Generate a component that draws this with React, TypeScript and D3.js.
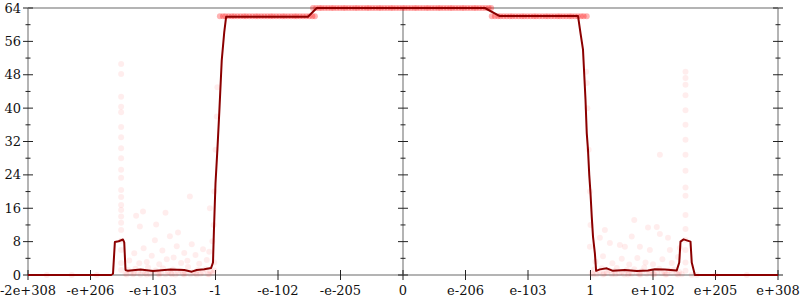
import React from "react";
import * as d3 from "d3";

// x positions are in "tick index" units of the float-ordering axis (tick i sits at i)
const xTickLabels = ["-2e+308", "-e+206", "-e+103", "-1", "-e-102", "-e-205", "0", "e-206", "e-103", "1", "e+102", "e+205", "e+308"];
const yTicks = [0, 8, 16, 24, 32, 40, 48, 56, 64];
const yMinorTicks = [4, 12, 20, 28, 36, 44, 52, 60];

// average-error line
const avgLine: [number, number][] = [
  [0, 0], [1.33, 0], [1.36, 0.3], [1.39, 7.9], [1.45, 8.1], [1.52, 8.5], [1.54, 7.8], [1.56, 1.2],
  [1.6, 1.0], [1.8, 1.3], [2.0, 0.95], [2.28, 1.3], [2.5, 1.2], [2.62, 0.8], [2.7, 1.2], [2.82, 1.4],
  [2.93, 1.7], [2.96, 3], [2.975, 10.8], [3.0, 22], [3.03, 30], [3.06, 38.8], [3.1, 51.5], [3.14, 58.2],
  [3.17, 61.9], [3.3, 61.9], [4.48, 61.9], [4.62, 64], [7.31, 64], [7.54, 62.1], [8.8, 62.1],
  [8.84, 58], [8.88, 54], [8.9, 48], [8.92, 42], [8.94, 34], [8.96, 30], [8.98, 24], [9.0, 19.6],
  [9.02, 14], [9.04, 9.2], [9.07, 5.2], [9.09, 1.0], [9.15, 1.35], [9.26, 1.6], [9.36, 1.0],
  [9.55, 1.2], [9.74, 0.95], [9.92, 1.1], [10.03, 1.4], [10.19, 1.3], [10.38, 1.1], [10.42, 3],
  [10.44, 8.0], [10.49, 8.55], [10.6, 8.0], [10.62, 3], [10.67, 0], [12, 0],
];

// dense sample bands
const band62LeftX = [3.07, 3.12, 3.16, 3.21, 3.26, 3.3, 3.35, 3.4, 3.45, 3.49, 3.54, 3.59, 3.64, 3.68, 3.73, 3.78, 3.83, 3.88, 3.92, 3.97, 4.02, 4.07, 4.11, 4.16, 4.21, 4.26, 4.3, 4.35, 4.4, 4.45, 4.5, 4.55, 4.59];
const band64X = [4.56, 4.61, 4.66, 4.7, 4.75, 4.8, 4.85, 4.89, 4.94, 4.99, 5.04, 5.08, 5.13, 5.18, 5.23, 5.27, 5.32, 5.37, 5.42, 5.46, 5.51, 5.56, 5.61, 5.65, 5.7, 5.75, 5.8, 5.84, 5.89, 5.94, 5.99, 6.03, 6.08, 6.13, 6.18, 6.22, 6.27, 6.32, 6.37, 6.41, 6.46, 6.51, 6.56, 6.6, 6.65, 6.7, 6.75, 6.79, 6.84, 6.89, 6.94, 6.98, 7.03, 7.08, 7.13, 7.17, 7.22, 7.27, 7.32, 7.37, 7.41];
const band62RightX = [7.42, 7.47, 7.52, 7.56, 7.61, 7.66, 7.71, 7.75, 7.8, 7.85, 7.9, 7.94, 7.99, 8.04, 8.09, 8.13, 8.18, 8.23, 8.28, 8.32, 8.37, 8.42, 8.47, 8.51, 8.56, 8.61, 8.66, 8.7, 8.75, 8.8, 8.85, 8.89, 8.94];
const band62Value = 62;
const band64Value = 64;

// sparse samples, negative side
const samplesLeft: [number, number][] = [
  [1.49, 50.6], [1.49, 48.2], [1.49, 42.7], [1.49, 40.3], [1.49, 39], [1.49, 35.5], [1.49, 33], [1.49, 30.4],
  [1.49, 28], [1.49, 25.2], [1.49, 23.3], [1.49, 20.4], [1.49, 18.7], [1.49, 16.8], [1.49, 15.6], [1.49, 14],
  [1.49, 12.5], [1.49, 10.8], [1.49, 8.2], [1.49, 6], [1.49, 2.9], [1.49, 1.2],
  [1.73, 14.2], [1.79, 11.6], [1.84, 15.2], [2.2, 14.9], [2.59, 18.8], [2.91, 16], [2.4, 10.2], [2.05, 12.1],
  [1.56, 0.3], [1.6, 1.2], [1.64, 0.5], [1.68, 0.2], [1.72, 1.5], [1.76, 0.6], [1.8, 0.1], [1.84, 0.9],
  [1.88, 0.4], [1.92, 1.8], [1.96, 0.2], [2.0, 0.7], [2.04, 1.1], [2.08, 0.3], [2.12, 0.5], [2.16, 1.6],
  [2.2, 0.2], [2.24, 0.8], [2.28, 0.4], [2.32, 1.3], [2.36, 0.1], [2.4, 0.6], [2.44, 1.0], [2.48, 0.3],
  [2.52, 0.5], [2.56, 1.9], [2.6, 0.2], [2.64, 0.7], [2.68, 0.4], [2.72, 1.2], [2.76, 0.3], [2.8, 0.6],
  [2.84, 1.4], [2.88, 0.2], [2.92, 0.9], [2.96, 0.5], [1.58, 0.1], [1.7, 0.4], [1.9, 0.1], [2.1, 0.1],
  [2.3, 0.2], [2.5, 0.1], [2.7, 0.1], [2.9, 0.2], [2.98, 1.1],
  [1.62, 3.5], [1.7, 5.2], [1.78, 2.8], [1.85, 6.4], [1.9, 3.1], [1.98, 4.6], [2.03, 8.3], [2.1, 2.6],
  [2.15, 5.9], [2.22, 3.8], [2.27, 9.3], [2.33, 4.2], [2.38, 6.9], [2.45, 2.9], [2.5, 5.3], [2.55, 3.4],
  [2.62, 7.4], [2.68, 4.8], [2.74, 2.7], [2.8, 6.2], [2.86, 3.6], [2.9, 5.6], [2.95, 8.1], [2.98, 3.0],
  [2.97, 12], [2.98, 20], [3.0, 30], [3.02, 38], [3.03, 45],
  [0.3, 0], [0.7, 0], [1.1, 0],
];

// sparse samples, positive side
const samplesRight: [number, number][] = [
  [10.52, 48.7], [10.52, 47.2], [10.52, 45.6], [10.52, 43.1], [10.52, 39.5], [10.52, 36], [10.52, 32.4],
  [10.52, 28.8], [10.52, 25], [10.52, 21], [10.52, 19], [10.52, 14.4], [10.52, 11], [10.52, 8.4],
  [10.52, 6], [10.52, 3], [10.52, 1],
  [10.11, 28.8], [9.92, 11.4], [10.06, 11.5], [9.23, 10.8], [9.7, 13.2],
  [8.99, 6.8], [9.15, 8.9], [9.31, 7.7], [9.47, 7.2], [9.55, 6.8], [9.66, 9.2], [9.79, 6.8], [9.95, 6],
  [10.11, 9.8], [10.24, 8.9], [10.27, 6], [10.43, 6.5],
  [9.08, 3.2], [9.2, 4.5], [9.35, 2.8], [9.5, 3.9], [9.62, 2.5], [9.75, 4.1], [9.88, 3.0], [10.0, 2.6],
  [10.15, 3.8], [10.3, 2.9], [10.4, 4.3],
  [9.02, 0.4], [9.06, 1.3], [9.1, 0.2], [9.14, 0.8], [9.18, 1.6], [9.22, 0.3], [9.26, 0.6], [9.3, 1.1],
  [9.34, 0.2], [9.38, 0.9], [9.42, 1.7], [9.46, 0.4], [9.5, 0.7], [9.54, 0.1], [9.58, 1.2], [9.62, 0.5],
  [9.66, 0.3], [9.7, 1.4], [9.74, 0.6], [9.78, 0.2], [9.82, 0.9], [9.86, 1.8], [9.9, 0.3], [9.94, 0.7],
  [9.98, 1.0], [10.02, 0.2], [10.06, 0.6], [10.1, 1.5], [10.14, 0.4], [10.18, 0.8], [10.22, 0.2],
  [10.26, 1.1], [10.3, 0.5], [10.34, 1.3], [10.38, 0.3], [10.42, 0.7], [10.46, 0.2],
  [9.04, 0.1], [9.2, 0.1], [9.4, 0.2], [9.6, 0.1], [9.8, 0.1], [10.0, 0.2], [10.2, 0.1], [10.4, 0.1],
  [8.93, 48.7], [8.94, 46], [8.95, 40], [8.97, 30], [8.99, 20], [9.0, 12],
  [10.62, 0], [10.7, 0], [11.0, 0], [11.5, 0],
];

const W = 800;
const H = 300;
const LEFT = 28;
const RIGHT = 778;
const TOP = 8;
const BOTTOM = 275;

export default function App() {
  const x = d3.scaleLinear().domain([0, xTickLabels.length - 1]).range([LEFT, RIGHT]);
  const y = d3.scaleLinear().domain([0, 64]).range([BOTTOM, TOP]);
  const line = d3.line<[number, number]>().x((d) => x(d[0])).y((d) => y(d[1]));
  const xTickValues = xTickLabels.map((_, i) => i);
  const midX = x(xTickLabels.indexOf("0"));

  const axisGray = "#b4b4b4";
  const tickColor = "#222";
  const font = "'DejaVu Serif', serif";

  const vAxisTicks = (ax: number, labels: boolean) => (
    <g>
      {yTicks.map((t) => (
        <line key={"M" + t} x1={ax - 5} x2={ax + 5} y1={y(t)} y2={y(t)} stroke={tickColor} strokeWidth={1} />
      ))}
      {yMinorTicks.map((t) => (
        <line key={"m" + t} x1={ax - 2.5} x2={ax + 2.5} y1={y(t)} y2={y(t)} stroke={tickColor} strokeWidth={1} />
      ))}
      {labels &&
        yTicks.map((t) => (
          <text key={"l" + t} x={ax - 7} y={y(t)} dy="0.35em" textAnchor="end" fontSize={13} fontFamily={font} fill="#111">
            {t}
          </text>
        ))}
    </g>
  );

  return (
    <svg width={W} height={H} style={{ position: "absolute", left: 0, top: 0, background: "#fff" }}>
      {/* axis frame lines */}
      <line x1={LEFT} x2={RIGHT} y1={TOP} y2={TOP} stroke={axisGray} strokeWidth={2} />
      <line x1={LEFT} x2={RIGHT} y1={BOTTOM} y2={BOTTOM} stroke={axisGray} strokeWidth={2} />
      <line x1={LEFT} x2={LEFT} y1={TOP} y2={BOTTOM} stroke={axisGray} strokeWidth={2} />
      <line x1={RIGHT} x2={RIGHT} y1={TOP} y2={BOTTOM} stroke={axisGray} strokeWidth={2} />
      <line x1={midX} x2={midX} y1={TOP} y2={BOTTOM} stroke={axisGray} strokeWidth={2} />

      {vAxisTicks(LEFT, true)}
      {vAxisTicks(midX, false)}
      {vAxisTicks(RIGHT, false)}

      {xTickValues.map((v) => (
        <g key={v}>
          <line x1={x(v)} x2={x(v)} y1={BOTTOM - 5} y2={BOTTOM + 5} stroke={tickColor} strokeWidth={1} />
          <text x={x(v)} y={BOTTOM + 20} textAnchor="middle" fontSize={13} fontFamily={font} fill="#111">
            {xTickLabels[v]}
          </text>
        </g>
      ))}

      {/* sample points */}
      <g fill="#ff0000">
        {[...samplesLeft, ...samplesRight].map((d, i) => (
          <circle key={"s" + i} cx={x(d[0])} cy={y(d[1])} r={3} fillOpacity={0.07} />
        ))}
        {band62LeftX.map((v, i) => (
          <circle key={"a" + i} cx={x(v)} cy={y(band62Value)} r={3} fillOpacity={0.3} />
        ))}
        {band64X.map((v, i) => (
          <circle key={"b" + i} cx={x(v)} cy={y(band64Value)} r={3} fillOpacity={0.3} />
        ))}
        {band62RightX.map((v, i) => (
          <circle key={"c" + i} cx={x(v)} cy={y(band62Value)} r={3} fillOpacity={0.3} />
        ))}
      </g>

      <path d={line(avgLine) || ""} fill="none" stroke="#8b0000" strokeWidth={2} strokeLinejoin="round" />
    </svg>
  );
}
